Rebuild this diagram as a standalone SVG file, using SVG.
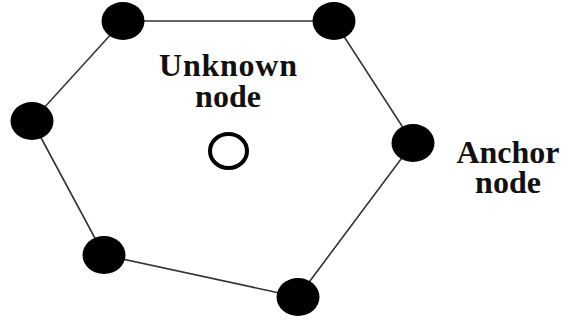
<svg xmlns="http://www.w3.org/2000/svg" width="563" height="323" viewBox="0 0 563 323">
  <style>
    .edge { stroke: #333; stroke-width: 1.6; fill: none; }
    .anchor { fill: #000; }
    .unknown { fill: #fff; stroke: #000; stroke-width: 4; }
    .label { font-family: "Liberation Serif", "Times New Roman", serif; font-weight: bold; font-size: 32px; fill: #111; text-anchor: middle; }
  </style>
  <rect width="563" height="323" fill="#fff"/>
  <g id="connectors">
    <polygon class="edge" points="123,21 334,21 413,143 298,297 104,255 32,121"/>
  </g>
  <g id="anchor-top-left"><ellipse class="anchor" cx="123" cy="21" rx="21.5" ry="19"/></g>
  <g id="anchor-top-right"><ellipse class="anchor" cx="334" cy="21" rx="21.5" ry="19"/></g>
  <g id="anchor-right"><ellipse class="anchor" cx="413" cy="143" rx="21.5" ry="19"/></g>
  <g id="anchor-bottom-right"><ellipse class="anchor" cx="298" cy="297" rx="21.5" ry="19"/></g>
  <g id="anchor-bottom-left"><ellipse class="anchor" cx="104" cy="255" rx="21.5" ry="19"/></g>
  <g id="anchor-left"><ellipse class="anchor" cx="32" cy="121" rx="21.5" ry="19"/></g>
  <g id="unknown-node">
    <ellipse class="unknown" cx="228.5" cy="151" rx="18.5" ry="17"/>
    <text class="label" x="228" y="76" textLength="138">Unknown</text>
    <text class="label" x="228" y="107">node</text>
  </g>
  <g id="anchor-label">
    <text class="label" x="508" y="163">Anchor</text>
    <text class="label" x="508" y="193">node</text>
  </g>
</svg>
